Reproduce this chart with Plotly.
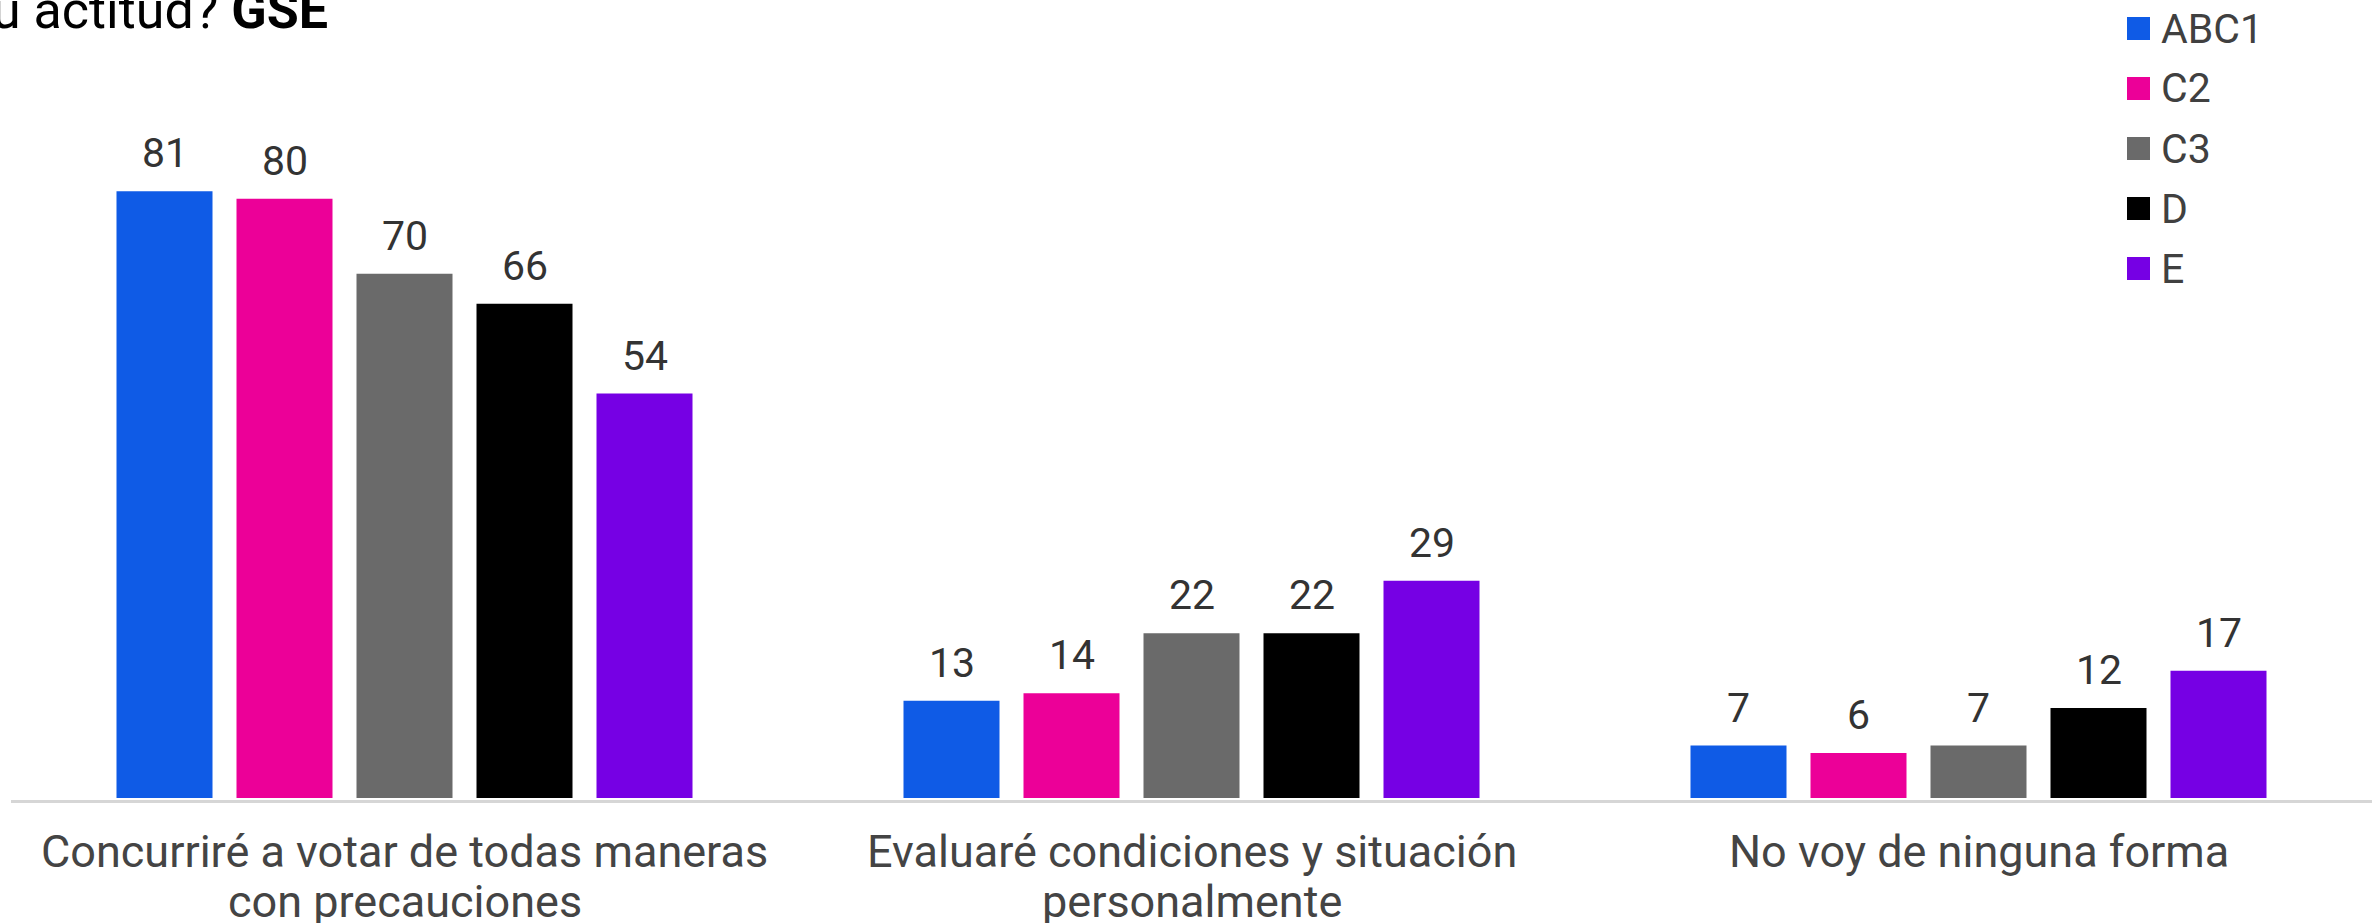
import plotly.graph_objects as go

category_lines = [
    ["Concurriré a votar de todas maneras", "con precauciones"],
    ["Evaluaré condiciones y situación", "personalmente"],
    ["No voy de ninguna forma"],
]
categories = [" ".join(lines) for lines in category_lines]
series_names = ["ABC1", "C2", "C3", "D", "E"]
values_abc1 = [81, 13, 7]
values_c2 = [80, 14, 6]
values_c3 = [70, 22, 7]
values_d = [66, 22, 12]
values_e = [54, 29, 17]
series_values = [values_abc1, values_c2, values_c3, values_d, values_e]
colors = ["#0F5BE6", "#EC0098", "#6A6A6A", "#000000", "#7600E4"]
title_plain = "u actitud? "
title_bold = "GSE"

W, H = 2374, 923
ML, MR, MT, MB = 11, 2, 0, 123
PW, PH = W - ML - MR, H - MT - MB
K = 7.49  # px per unit
FONT = "Roboto"
BARGAP = 0.2376
GROUPGAP = 0.2

fig = go.Figure()
for name, vals, col in zip(series_names, series_values, colors):
    fig.add_trace(go.Bar(x=categories, y=vals, name=name, marker=dict(color=col, line=dict(width=0)),
                         showlegend=False, hoverinfo="y+name"))

def px_x(p):
    return (p - ML) / PW

def px_y(p):
    return 1 - (p - MT) / PH

annotations = []
shapes = []
n = len(series_names)
pitch = (1 - BARGAP) / n
for j, vals in enumerate(series_values):
    for i, v in enumerate(vals):
        annotations.append(dict(x=i + (j - (n - 1) / 2) * pitch, y=v, xref="x", yref="y",
                                text=str(v), showarrow=False, yanchor="bottom", yshift=12,
                                font=dict(family=FONT, size=41, color="#333333")))

# category labels, one annotation per line
CAT_FS = 45
for i, lines in enumerate(category_lines):
    for k, line in enumerate(lines):
        baseline = 867 + 50 * k
        anchor = baseline - 0.355 * CAT_FS
        annotations.append(dict(x=i, y=px_y(anchor), xref="x", yref="paper", xanchor="center",
                                yanchor="middle", text=line, showarrow=False,
                                font=dict(family=FONT, size=CAT_FS, color="#444444")))

# title (cropped at the left edge)
TFS = 52
annotations.append(dict(x=px_x(-10), y=px_y(29 - 0.355 * TFS), xref="paper", yref="paper",
                        xanchor="left", yanchor="middle",
                        text=title_plain + "<b>" + title_bold + "</b>", showarrow=False,
                        font=dict(family=FONT, size=TFS, color="#000000")))

# legend
for k, (name, col) in enumerate(zip(series_names, colors)):
    cy = 28.5 + 60 * k
    shapes.append(dict(type="rect", xref="paper", yref="paper", x0=px_x(2127), x1=px_x(2150),
                       y0=px_y(cy + 11.5), y1=px_y(cy - 11.5), fillcolor=col, line=dict(width=0)))
    annotations.append(dict(x=px_x(2159), y=px_y(cy), xref="paper", yref="paper", xanchor="left",
                            yanchor="middle", text=name, showarrow=False,
                            font=dict(family=FONT, size=41, color="#404040")))

fig.update_layout(
    width=W, height=H,
    margin=dict(l=ML, r=MR, t=MT, b=MB, pad=0, autoexpand=False),
    barmode="group", bargap=BARGAP, bargroupgap=GROUPGAP,
    plot_bgcolor="white", paper_bgcolor="white",
    annotations=annotations, shapes=shapes,
    showlegend=False,
    xaxis=dict(showline=True, linewidth=3, linecolor="#D6D6D6", layer="below traces",
               showgrid=False, ticks="", showticklabels=False, automargin=False),
    yaxis=dict(range=[-2 / K, 798 / K], visible=False, showgrid=False, zeroline=False,
               automargin=False),
)

fig.write_html("out.html", config={"displayModeBar": False},
               post_script="document.body.style.margin='0';document.body.style.overflow='hidden';")
